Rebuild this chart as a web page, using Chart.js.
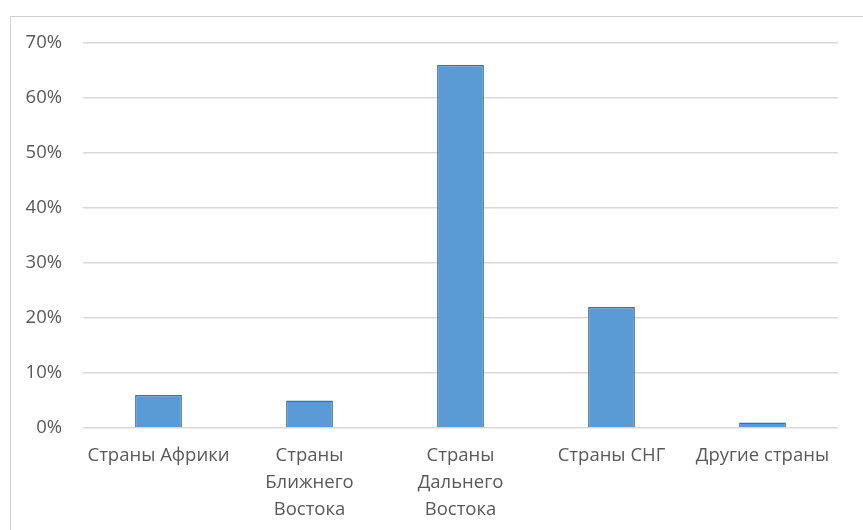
<!DOCTYPE html>
<html>
<head>
<meta charset="utf-8">
<script src="https://cdn.jsdelivr.net/npm/chart.js@4"></script>
<style>
  html, body { margin: 0; padding: 0; background: #fff; }
  #wrap { position: relative; width: 863px; height: 530px; }
  #frame { position: absolute; left: 10px; top: 16px; right: -2px; bottom: -2px; border: 1px solid #d0d0d0; }
  canvas { position: absolute; left: 0; top: 0; }
</style>
</head>
<body>
<div id="wrap">
  <div id="frame"></div>
  <canvas id="chart" width="863" height="530"></canvas>
</div>
<script>
// Categories and shares (%)
const categories = [
    'Страны Африки',
    ['Страны', 'Ближнего', 'Востока'],
    ['Страны', 'Дальнего', 'Востока'],
    'Страны СНГ',
    'Другие страны'
];
const shares = [6, 5, 66, 22, 1];
const yTicks = [0, 10, 20, 30, 40, 50, 60, 70];

const labelFont = { family: '"Open Sans", "DejaVu Sans", sans-serif', size: 18.5, lineHeight: '27px' };

new Chart(document.getElementById('chart').getContext('2d'), {
    type: 'bar',
    data: {
        labels: categories,
        datasets: [{
            data: shares,
            backgroundColor: '#5b9bd5',
            borderColor: '#3f6f9a',
            borderWidth: 1.5,
            categoryPercentage: 1,
            barPercentage: 0.31
        }]
    },
    options: {
        responsive: false,
        animation: false,
        layout: { padding: { left: 25, right: 25, top: 43, bottom: 0 } },
        plugins: { legend: { display: false }, tooltip: { enabled: false } },
        scales: {
            x: {
                grid: { display: false },
                border: { display: false },
                ticks: { color: '#595959', font: labelFont, padding: 6, maxRotation: 0, autoSkip: false },
                afterFit: (s) => { s.height = 102; }
            },
            y: {
                min: 0,
                max: 70,
                afterBuildTicks: (s) => { s.ticks = yTicks.map(v => ({ value: v })); },
                grid: { color: '#d9d9d9', lineWidth: 1.5, drawTicks: false },
                border: { display: false },
                ticks: { color: '#595959', font: labelFont, padding: 21, callback: (v) => v + '%' },
                afterFit: (s) => { s.width = 58; }
            }
        }
    }
});
</script>
</body>
</html>
